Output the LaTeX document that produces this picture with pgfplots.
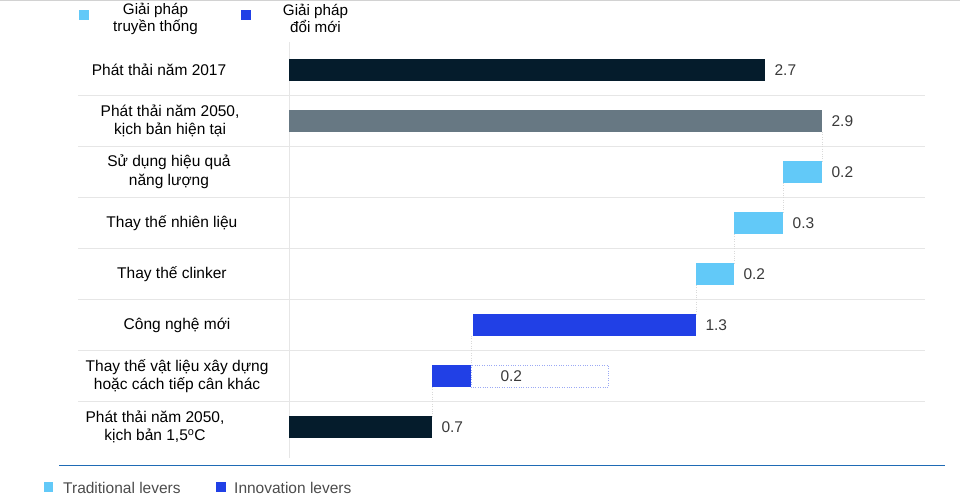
\documentclass[border=0pt]{standalone}
\usepackage{pgfplots}
\pgfplotsset{compat=1.18}
\usepackage{fontspec}
\setmainfont{Liberation Sans}
\definecolor{navy}{HTML}{051C2C}
\definecolor{slate}{HTML}{677883}
\definecolor{lblue}{HTML}{62C9F8}
\definecolor{dblue}{HTML}{2140E6}
\definecolor{sepc}{HTML}{E6E6E6}
\definecolor{numc}{HTML}{3A3A3A}
\definecolor{linec}{HTML}{1F6BB5}
\begin{document}
\begin{tikzpicture}[font=\fontsize{15.5}{18.5}\selectfont]
\begin{axis}[at={(289pt,-44.5pt)}, anchor=north west, scale only axis,
  width=636pt, height=408pt, xmin=0, xmax=3.46, ymin=0.5, ymax=8.5,
  y dir=reverse, axis lines=none, ticks=none, clip=false]
% separators
\pgfplotsinvokeforeach{1.5,2.5,3.5,4.5,5.5,6.5,7.5}{
  \draw[sepc, line width=0.8pt] (axis cs:-1.148,#1) -- (axis cs:3.46,#1);
}
\draw[sepc, line width=0.8pt] (axis cs:0,0.45) -- (axis cs:0,8.6);
% connectors
\draw[gray!30, dotted] (axis cs:2.9,2.216) -- (axis cs:2.9,2.784);
\draw[gray!30, dotted] (axis cs:2.688,3.216) -- (axis cs:2.688,3.784);
\draw[gray!30, dotted] (axis cs:2.421,4.216) -- (axis cs:2.421,4.784);
\draw[gray!30, dotted] (axis cs:2.214,5.216) -- (axis cs:2.214,5.784);
\draw[gray!30, dotted] (axis cs:0.99,6.216) -- (axis cs:0.99,6.784);
\draw[gray!30, dotted] (axis cs:0.778,7.216) -- (axis cs:0.778,7.784);
% bars
\addplot[fill=navy, draw=none] coordinates {(0,0.784) (2.59,0.784) (2.59,1.216) (0,1.216)} -- cycle;
\addplot[fill=slate, draw=none] coordinates {(0,1.784) (2.9,1.784) (2.9,2.216) (0,2.216)} -- cycle;
\addplot[fill=lblue, draw=none] coordinates {(2.688,2.784) (2.9,2.784) (2.9,3.216) (2.688,3.216)} -- cycle;
\addplot[fill=lblue, draw=none] coordinates {(2.421,3.784) (2.688,3.784) (2.688,4.216) (2.421,4.216)} -- cycle;
\addplot[fill=lblue, draw=none] coordinates {(2.214,4.784) (2.421,4.784) (2.421,5.216) (2.214,5.216)} -- cycle;
\addplot[fill=dblue, draw=none] coordinates {(1.001,5.784) (2.214,5.784) (2.214,6.216) (1.001,6.216)} -- cycle;
\addplot[fill=dblue, draw=none] coordinates {(0.778,6.784) (0.99,6.784) (0.99,7.216) (0.778,7.216)} -- cycle;
\addplot[fill=navy, draw=none] coordinates {(0,7.784) (0.778,7.784) (0.778,8.216) (0,8.216)} -- cycle;
\draw[dblue!45, dotted] (axis cs:0.99,6.784) rectangle (axis cs:1.736,7.216);
% value labels
\begin{scope}[every node/.style={anchor=west, text=numc, xshift=6pt}]
\node at (axis cs:2.59,1) {2.7};
\node at (axis cs:2.9,2) {2.9};
\node at (axis cs:2.9,3) {0.2};
\node at (axis cs:2.688,4) {0.3};
\node at (axis cs:2.421,5) {0.2};
\node at (axis cs:2.214,6) {1.3};
\node[xshift=20pt] at (axis cs:0.99,7) {0.2};
\node at (axis cs:0.778,8) {0.7};
\end{scope}
% category labels
\begin{scope}[every node/.style={align=center, text=black}]
\node at (axis cs:-0.707,1) {Phát thải năm 2017};
\node at (axis cs:-0.647,2) {Phát thải năm 2050,\\kịch bản hiện tại};
\node at (axis cs:-0.653,3) {Sử dụng hiệu quả\\năng lượng};
\node at (axis cs:-0.637,4) {Thay thế nhiên liệu};
\node at (axis cs:-0.637,5) {Thay thế clinker};
\node at (axis cs:-0.609,6) {Công nghệ mới};
\node at (axis cs:-0.609,7) {Thay thế vật liệu xây dựng\\hoặc cách tiếp cân khác};
\node at (axis cs:-0.729,8) {Phát thải năm 2050,\\kịch bản 1,5\textsuperscript{o}C};
\end{scope}
\end{axis}
% top line
\draw[gray!35, line width=0.8pt] (0pt,-0.5pt) -- (960pt,-0.5pt);
% top legend
\begin{scope}[font=\fontsize{15.2}{17}\selectfont]
\fill[lblue] (79pt,-10pt) rectangle (89pt,-20pt);
\node[align=center] at (155.5pt,-18.5pt) {Giải pháp\\truyền thống};
\fill[dblue] (241pt,-10pt) rectangle (251pt,-20pt);
\node[align=center] at (315.5pt,-18.5pt) {Giải pháp\\đổi mới};
\end{scope}
% bottom line
\draw[linec, line width=1pt] (59pt,-465pt) -- (945pt,-465pt);
% bottom legend
\fill[lblue] (44pt,-482pt) rectangle (53pt,-492pt);
\node[anchor=west, text=black!70, inner sep=0pt] at (63pt,-487.5pt) {Traditional levers};
\fill[dblue] (216pt,-482pt) rectangle (226pt,-492pt);
\node[anchor=west, text=black!70, inner sep=0pt] at (234pt,-487.5pt) {Innovation levers};
\pgfresetboundingbox
\path[use as bounding box] (0pt,0pt) rectangle (960pt,-502pt);
\end{tikzpicture}
\end{document}
